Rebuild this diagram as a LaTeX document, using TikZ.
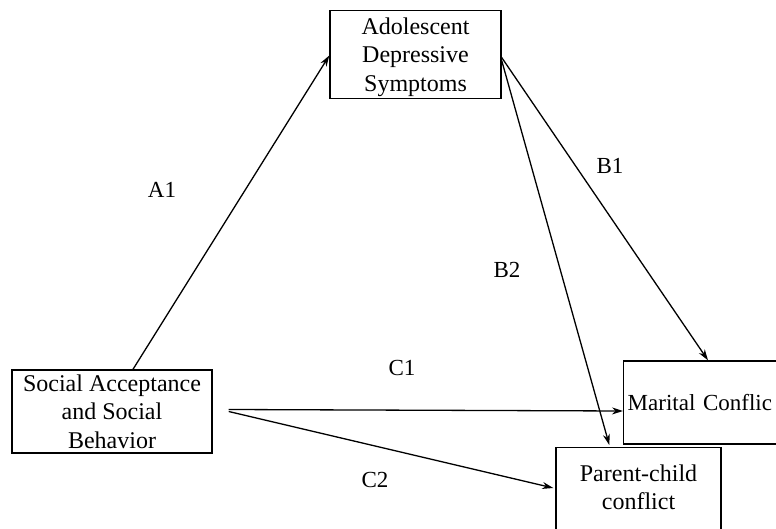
\documentclass[tikz,border=0pt]{standalone}
\usepackage{fontspec}
\setmainfont{Liberation Serif}
\usetikzlibrary{arrows.meta,calc}
\begin{document}
\begin{tikzpicture}[x=1pt,y=-1pt,
  box/.style={draw, line width=1.4pt, inner xsep=3pt, inner ysep=0pt, align=center,
    font=\fontsize{24}{28.5}\selectfont},
  arr/.style={-{Stealth[length=11pt,width=7pt]}, line width=1.3pt},
  lab/.style={font=\fontsize{23}{26}\selectfont}]
\useasboundingbox (0,0) rectangle (776,529);
\node[box, anchor=north, minimum width=171pt, inner ysep=7pt, text depth=0pt] (ads) at (415.5,10)
  {Adolescent\\Depressive\\Symptoms};
\node[box, minimum width=200pt, minimum height=83pt] (soc) at (112,411.5)
  {Social Acceptance\\and Social\\Behavior};
\node[box, anchor=west, minimum height=83pt, text width=170pt, align=left, inner xsep=4pt,
  font=\fontsize{23}{28}\selectfont]
  (mar) at (623,402.5) {Marital Conflic};
\node[box, anchor=north, minimum width=165pt, inner ysep=17pt, text depth=45pt]
  (par) at (638.5,447) {Parent-child\\conflict};

\draw[arr] ([xshift=21pt]soc.north) -- ([yshift=-1pt]ads.west);
\draw[arr] ([yshift=-3pt]ads.east) -- ([xshift=85pt]mar.north west);
\draw[arr] ([yshift=-6pt]ads.east) -- ([xshift=54pt,yshift=2pt]par.north west);
\draw[arr] ([xshift=16pt,yshift=2pt]soc.east) -- ([yshift=-8.5pt]mar.west);
\draw[arr] ([xshift=16pt]soc.east) -- ([xshift=-2pt,yshift=-41pt]par.north west);

\node[lab] (la1) at (162,190) {A1};
\node[lab] (lb1) at (610,166) {B1};
\node[lab] (lb2) at (507,270) {B2};
\node[lab] (lc1) at (402,368) {C1};
\node[lab] (lc2) at (375,480) {C2};
\end{tikzpicture}
\end{document}
